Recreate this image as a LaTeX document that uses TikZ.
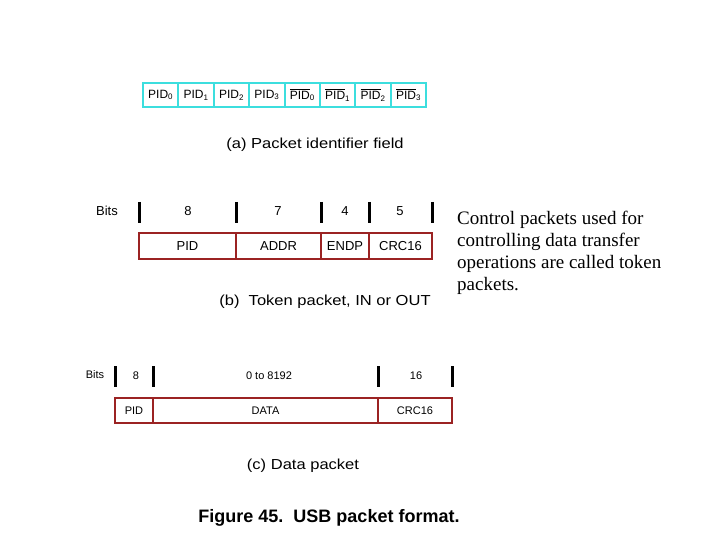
\documentclass[tikz,border=0pt]{standalone}
\usepackage{fontspec}
\setmainfont{Liberation Sans}
\newfontfamily\serifnote{Liberation Serif}
\newfontfamily\capfont[FakeStretch=1.14]{Liberation Sans}
\definecolor{pidcyan}{RGB}{60,222,222}
\definecolor{boxred}{RGB}{155,35,35}
\tikzset{
  cbox/.style={draw=pidcyan, line width=2pt, minimum height=24pt, inner sep=0pt, font=\fontsize{12}{14}\selectfont},
  rbox/.style={draw=boxred, line width=2pt, inner sep=0pt, font=\fontsize{13}{14}\selectfont},
  rboxc/.style={draw=boxred, line width=2pt, inner sep=0pt, font=\fontsize{11}{13}\selectfont},
  lbl/.style={inner sep=0pt, font=\fontsize{13}{14}\selectfont},
  lblc/.style={inner sep=0pt, font=\fontsize{11}{13}\selectfont},
  captxt/.style={inner sep=0pt, font=\capfont\fontsize{14.5}{16}\selectfont},
  tickbar/.style={line width=3pt, black}
}
\newcommand{\pidbar}[1]{$\overline{\mbox{PID}}$\textsubscript{#1}}
\begin{document}
\begin{tikzpicture}[x=1pt, y=-1pt]
\useasboundingbox (0,0) rectangle (720,540);
% (a)
\foreach \i/\lab in {0/PID\textsubscript{0},1/PID\textsubscript{1},2/PID\textsubscript{2},3/PID\textsubscript{3},4/\pidbar{0},5/\pidbar{1},6/\pidbar{2},7/\pidbar{3}}{
  \node[cbox, minimum width=35.4pt] (a\i) at ({160.7+35.4*\i},95) {\lab};
}
\node[captxt] (capa) at (315,145) {(a) Packet identifier field};
% (b)
\node[lbl] (bitsb) at (107,211) {Bits};
\foreach \x in {139,236,321,369,432}{\draw[tickbar] (\x,202) -- (\x,223);}
\node[lbl] (nb1) at (188,211) {8};
\node[lbl] (nb2) at (278,211) {7};
\node[lbl] (nb3) at (345,211) {4};
\node[lbl] (nb4) at (400,211) {5};
\node[rbox, minimum width=97pt, minimum height=26pt] (bpid) at (187.5,246) {PID};
\node[rbox, minimum width=85pt, minimum height=26pt] (baddr) at (278.5,246) {ADDR};
\node[rbox, minimum width=48pt, minimum height=26pt] (bendp) at (345,246) {ENDP};
\node[rbox, minimum width=63pt, minimum height=26pt] (bcrc) at (400.5,246) {CRC16};
\node[captxt] (capb) at (325,302) {(b)\ \ Token packet, IN or OUT};
% (c)
\node[lblc] (bitsc) at (95,375) {Bits};
\foreach \x in {115,153,378,452}{\draw[tickbar] (\x,366) -- (\x,387);}
\node[lblc] (nc1) at (136,376) {8};
\node[lblc] (nc2) at (269,376) {0 to 8192};
\node[lblc] (nc3) at (416,376) {16};
\node[rboxc, minimum width=38pt, minimum height=25pt] (cpid) at (134,410.5) {PID};
\node[rboxc, minimum width=225pt, minimum height=25pt] (cdata) at (265.5,410.5) {DATA};
\node[rboxc, minimum width=74pt, minimum height=25pt] (ccrc) at (415,410.5) {CRC16};
\node[captxt] (capc) at (303,466) {(c) Data packet};
% figure caption
\node[inner sep=0pt, font=\fontsize{18}{20}\selectfont\bfseries] (fig) at (329,517.5) {Figure 45.\ \ USB packet format.};
% note
\node[inner sep=0pt, anchor=north west, align=left, font=\serifnote\fontsize{19}{22}\selectfont] (note) at (457,211) {Control packets used for\\controlling data transfer\\operations are called token\\packets.};
\end{tikzpicture}
\end{document}
